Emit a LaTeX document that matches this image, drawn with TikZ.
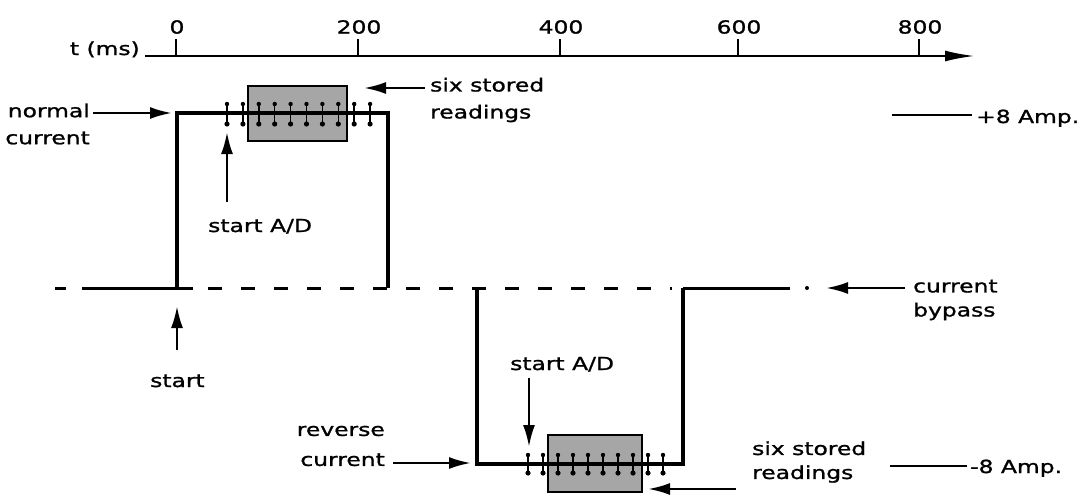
\documentclass[tikz,border=0pt]{standalone}
\usepackage{fontspec}
\setmainfont{DejaVu Sans}[FakeStretch=1.3,FakeBold=1.2]
\usetikzlibrary{arrows.meta}
\begin{document}
\begin{tikzpicture}[x=1pt,y=-1pt,
  lbl/.style={font=\fontsize{18}{27}\selectfont, inner sep=0pt},
  wave/.style={line width=3.6pt},
  base/.style={line width=3pt},
  arr/.style={line width=2.5pt,-{Latex[length=22pt,width=12pt]}},
  mk/.style={line width=1.5pt},
  store/.style={draw=black,line width=2.4pt,fill=black!35}
]
\useasboundingbox (0,0) rectangle (1080,498);

% time axis
\coordinate (ax0) at (145,56);
\coordinate (ax1) at (975,56);
\draw[line width=2.4pt,-{Latex[length=30pt,width=11pt]}] (ax0) -- (ax1);
\foreach \x/\l in {176/0,358/200,560/400,738/600,919/800}{
  \draw[line width=2.8pt] (\x,39) -- (\x,56);
  \node[lbl] (t\l) at (\x+1,27) {\l};
}
\node[lbl,anchor=base east] (tms) at (140,55) {t (ms)};

% zero line
\coordinate (z0) at (55,288);  \coordinate (z1) at (66,288);
\coordinate (z2) at (82,288);  \coordinate (z3) at (193,288);
\coordinate (z4) at (208,288); \coordinate (z5) at (672,288);
\coordinate (z6) at (683,288); \coordinate (z7) at (790,288);
\draw[base] (z0) -- (z1);
\draw[base] (z2) -- (z3);
\draw[base,dash pattern=on 14pt off 19pt] (z4) -- (z5);
\draw[base] (z6) -- (z7);
\fill (807,288) circle[radius=2pt];

% stored readings boxes
\draw[store] (248,86) rectangle (347,141);
\draw[store] (548,435) rectangle (642,492);

% waveform
\coordinate (p0) at (177,288); \coordinate (p1) at (177,113);
\coordinate (p2) at (388,113); \coordinate (p3) at (388,288);
\coordinate (n0) at (477,288); \coordinate (n1) at (477,464);
\coordinate (n2) at (683,464); \coordinate (n3) at (683,288);
\draw[wave] (p0) -- (p1) -- (p2) -- (p3);
\draw[wave] (n0) -- (n1) -- (n2) -- (n3);

% sample markers
\foreach \i in {0,...,9}{
  \pgfmathsetmacro\xa{227+15.9*\i}
  \draw[mk] (\xa,104) -- (\xa,124);
  \fill (\xa,104) circle[radius=2.2pt];
  \fill (\xa,124) circle[radius=2.6pt];
  \pgfmathsetmacro\xb{528+15*\i}
  \draw[mk] (\xb,455) -- (\xb,473);
  \fill (\xb,455) circle[radius=2.2pt];
  \fill (\xb,473) circle[radius=2.6pt];
}

% level legends
\node[lbl,anchor=base west] (ap) at (976,123) {+8 Amp.};
\node[lbl,anchor=base west] (am) at (970,473) {-8 Amp.};
\coordinate (lp) at (892,115);
\coordinate (lm) at (890,466);
\draw[line width=2.2pt] (lp) -- ([xshift=-4pt]ap.west |- lp);
\draw[line width=2.2pt] (lm) -- ([xshift=-3pt]am.west |- lm);

% labels
\node[lbl,align=right,anchor=east] (nc) at (90,124) {normal\\current};
\node[lbl,align=left,anchor=west] (ss1) at (430,100) {six stored\\readings};
\node[lbl,anchor=base west] (sad1) at (208,232) {start A/D};
\node[lbl,anchor=base west] (st) at (150,387) {start};
\node[lbl,align=left,anchor=west,font=\fontsize{18}{24}\selectfont] (cb) at (913,300) {current\\bypass};
\node[lbl,anchor=base west] (sad2) at (510,370) {start A/D};
\node[lbl,align=right,anchor=east,font=\fontsize{18}{30}\selectfont] (rc) at (385,446) {reverse\\current};
\node[lbl,align=left,anchor=west,font=\fontsize{18}{24}\selectfont] (ss2) at (752,462) {six stored\\readings};

% arrows
\coordinate (a1s) at (93,113);  \coordinate (a1e) at (172,113);
\coordinate (a2s) at (425,88);  \coordinate (a2e) at (364,88);
\coordinate (a3s) at (227,202); \coordinate (a3e) at (227,132);
\coordinate (a4s) at (177,350); \coordinate (a4e) at (177,306);
\coordinate (a5s) at (905,288); \coordinate (a5e) at (826,288);
\coordinate (a6s) at (529,378); \coordinate (a6e) at (529,447);
\coordinate (a7s) at (393,463); \coordinate (a7e) at (471,463);
\coordinate (a8s) at (736,489); \coordinate (a8e) at (648,489);
\draw[arr] (a1s) -- (a1e);
\draw[arr] (a2s) -- (a2e);
\draw[arr] (a3s) -- (a3e);
\draw[arr] (a4s) -- (a4e);
\draw[arr] (a5s) -- (a5e);
\draw[arr] (a6s) -- (a6e);
\draw[arr] (a7s) -- (a7e);
\draw[arr] (a8s) -- (a8e);
\end{tikzpicture}
\end{document}
